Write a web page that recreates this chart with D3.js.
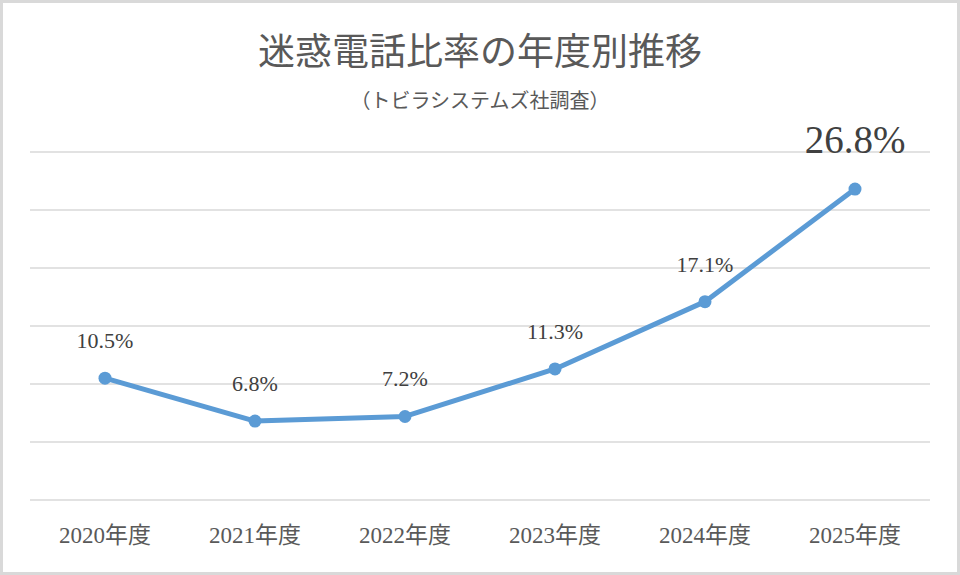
<!DOCTYPE html>
<html>
<head>
<meta charset="utf-8">
<script src="https://cdn.jsdelivr.net/npm/d3@7"></script>
<style>
    body { margin: 0; background: #fff; }
    svg { display: block; font-family: "Liberation Serif", "Noto Sans CJK JP", serif; }
</style>
</head>
<body>
<svg width="960" height="575"></svg>
<script>
    const years = ["2020年度", "2021年度", "2022年度", "2023年度", "2024年度", "2025年度"];
    const rates = [10.5, 6.8, 7.2, 11.3, 17.1, 26.8];
    const yTicks = [0, 5, 10, 15, 20, 25, 30];

    let svg = d3.select("svg");

    // outer frame
    svg.append("rect")
        .attr("x", 1.5).attr("y", 1.5)
        .attr("width", 957).attr("height", 572)
        .attr("fill", "#fff")
        .attr("stroke", "#d9d9d9")
        .attr("stroke-width", 3);

    let x = d3.scaleBand()
        .domain(years)
        .range([30, 930]);

    let y = d3.scaleLinear()
        .domain([0, 30])
        .range([500, 152]);

    // gridlines
    svg.append("g")
        .selectAll("line")
        .data(yTicks)
        .enter()
        .append("line")
        .attr("x1", 30).attr("x2", 930)
        .attr("y1", d => y(d)).attr("y2", d => y(d))
        .attr("stroke", "#d9d9d9")
        .attr("stroke-width", 1.3);

    // x axis labels
    let xAxis = svg.append("g")
        .attr("transform", "translate(0,500)")
        .call(d3.axisBottom(x).tickSize(0).tickPadding(27));
    xAxis.select(".domain").remove();
    xAxis.selectAll("text")
        .attr("font-size", 23)
        .attr("font-family", "Liberation Serif, Noto Sans CJK JP, serif")
        .attr("fill", "#595959");

    let cx = d => x(d) + x.bandwidth() / 2;

    let line = d3.line()
        .x((d, i) => cx(years[i]))
        .y(d => y(d));

    svg.append("path")
        .datum(rates)
        .attr("d", line)
        .attr("fill", "none")
        .attr("stroke", "#5b9bd5")
        .attr("stroke-width", 5)
        .attr("stroke-linejoin", "round");

    svg.append("g")
        .selectAll("circle")
        .data(rates)
        .enter()
        .append("circle")
        .attr("cx", (d, i) => cx(years[i]))
        .attr("cy", d => y(d))
        .attr("r", 6.5)
        .attr("fill", "#5b9bd5");

    // data labels
    svg.append("g")
        .selectAll("text")
        .data(rates)
        .enter()
        .append("text")
        .attr("x", (d, i) => cx(years[i]))
        .attr("y", (d, i) => y(d) - (i === rates.length - 1 ? 36 : 30))
        .attr("text-anchor", "middle")
        .attr("font-size", (d, i) => i === rates.length - 1 ? 39 : 22)
        .attr("fill", "#404040")
        .text(d => d.toFixed(1) + "%");

    // title
    svg.append("text")
        .attr("x", 480).attr("y", 65)
        .attr("text-anchor", "middle")
        .attr("font-size", 37)
        .attr("fill", "#595959")
        .text("迷惑電話比率の年度別推移");

    svg.append("text")
        .attr("x", 480).attr("y", 108)
        .attr("text-anchor", "middle")
        .attr("font-size", 20)
        .attr("fill", "#595959")
        .text("（トビラシステムズ社調査）");
</script>
</body>
</html>
